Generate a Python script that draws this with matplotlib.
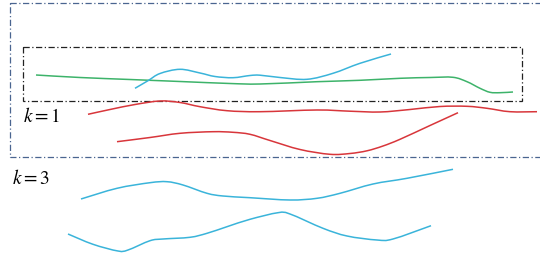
import matplotlib.pyplot as plt
from matplotlib.patches import PathPatch, Rectangle
from matplotlib.path import Path

plt.rcParams["mathtext.fontset"] = "stix"

# curves, in pixel units (x right, y down)
green_x = [36, 80, 130, 180, 230, 260, 317, 360, 400, 430, 453, 467, 480, 490, 500, 513]
green_y = [75, 77.5, 79.5, 81.5, 83.5, 84, 81.7, 80.3, 78.3, 77.5, 77.3, 81.7, 88.3, 92.3, 92.7, 92]

cyan1_x = [135, 148, 160, 180, 200, 215, 233, 250, 260, 280, 307, 333, 360, 391]
cyan1_y = [88.3, 80.7, 73.5, 69.3, 73, 76.5, 77.7, 75.5, 75.2, 77.5, 79.3, 73.3, 63.3, 54]

red1_x = [88, 110, 135, 160, 180, 200, 227, 260, 317, 350, 380, 410, 440, 467, 487, 510, 537]
red1_y = [114.3, 109.5, 104.5, 101, 102.5, 106.7, 110.7, 111.7, 110, 111.2, 112, 109.5, 106.5, 106.3, 108.3, 111.7, 111.7]

red2_x = [117, 150, 180, 213, 233, 250, 270, 300, 330, 350, 367, 383, 400, 430, 458]
red2_y = [141.7, 137.5, 133.3, 131.7, 132.3, 134.3, 140.5, 149.5, 154.3, 153.5, 150.8, 146, 139.3, 125.5, 112.7]

cyan3a_x = [81, 117, 150, 167, 183, 207, 223, 250, 290, 317, 340, 373, 407, 453]
cyan3a_y = [199, 188.3, 182.7, 181.7, 185, 193.3, 196, 197.7, 200, 198.3, 193.3, 184, 178.3, 169.3]

cyan3b_x = [68, 93, 118, 128, 150, 163, 190, 207, 227, 250, 278, 290, 323, 347, 377, 393, 431]
cyan3b_y = [234, 244.3, 251, 250, 240.7, 239, 237.3, 233.3, 226.7, 219.3, 212.7, 214, 228.3, 236, 240, 239, 225.7]

labels = ["1", "3"]


def smooth_path(xs, ys):
    # Catmull-Rom through the points, drawn as cubic Bezier segments
    pts = list(zip(xs, ys))
    verts = [pts[0]]
    codes = [Path.MOVETO]
    for i in range(len(pts) - 1):
        p0 = pts[max(i - 1, 0)]
        p1 = pts[i]
        p2 = pts[i + 1]
        p3 = pts[min(i + 2, len(pts) - 1)]
        c1 = (p1[0] + (p2[0] - p0[0]) / 6, p1[1] + (p2[1] - p0[1]) / 6)
        c2 = (p2[0] - (p3[0] - p1[0]) / 6, p2[1] - (p3[1] - p1[1]) / 6)
        verts += [c1, c2, p2]
        codes += [Path.CURVE4] * 3
    return Path(verts, codes)


fig = plt.figure(figsize=(5.4, 2.57), dpi=100)
ax = fig.add_axes([0, 0, 1, 1])
ax.set_xlim(0, 540)
ax.set_ylim(257, 0)
ax.axis("off")

# outer dash-dot frame (runs off the right edge)
ax.add_patch(Rectangle((10, 3), 560, 154, fill=False, edgecolor="#4a6590",
                       linestyle=(0, (5, 2, 1, 2)), linewidth=0.9))
# inner dash-dot frame
ax.add_patch(Rectangle((23, 46.5), 499, 54, fill=False, edgecolor="#222222",
                       linestyle=(0, (5, 2, 1, 2)), linewidth=0.9))

curves = [
    (green_x, green_y, "#3db36a"),
    (cyan1_x, cyan1_y, "#3ab4da"),
    (red1_x, red1_y, "#d8363b"),
    (red2_x, red2_y, "#d8363b"),
    (cyan3a_x, cyan3a_y, "#3ab4da"),
    (cyan3b_x, cyan3b_y, "#3ab4da"),
]
for xs, ys, c in curves:
    ax.add_patch(PathPatch(smooth_path(xs, ys), fill=False, edgecolor=c, lw=1.1))

for (x, y), k in zip([(23, 116), (12, 179)], labels):
    ax.text(x, y, f"$k={k}$", fontsize=14, va="center", ha="left")

fig.savefig("out.png", dpi=100)
